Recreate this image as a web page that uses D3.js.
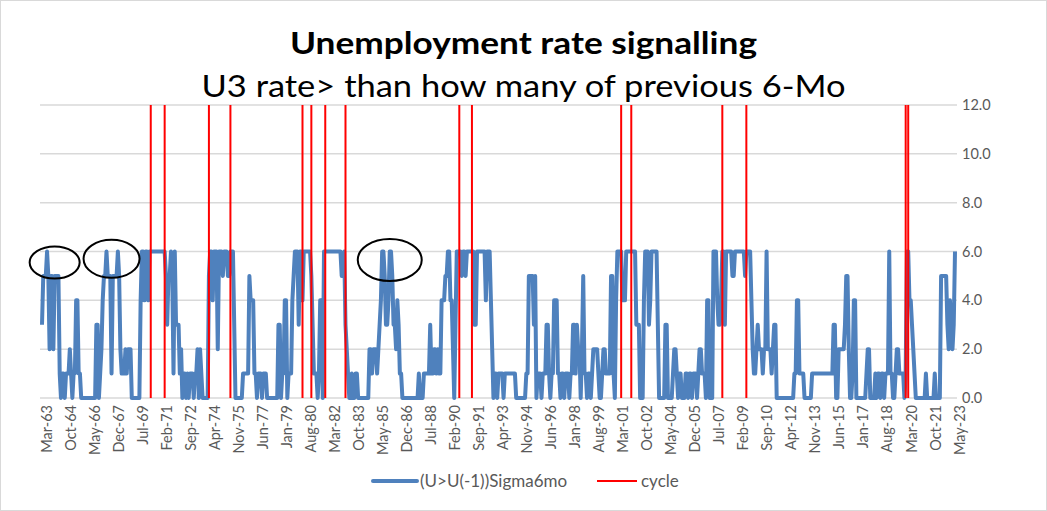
<!DOCTYPE html>
<html>
<head>
<meta charset="utf-8">
<script src="https://cdn.jsdelivr.net/npm/d3@7"></script>
<style>
  body { margin: 0; background: #fff; }
  svg text { font-family: Lato, "Open Sans", sans-serif; }
</style>
</head>
<body>
<div id="chart"></div>
<script>
// (U>U(-1))Sigma6mo, monthly, in blocks of ten years starting each March
const sigmaMar63 = [
  3,5,5,5,6,5,2,5,5,2,5,5, 5,5,1,0,1,1,0,1,1,1,2,1, 0,1,1,4,4,1,1,0,0,0,0,0,
  0,0,0,0,0,0,0,3,3,0,1,2, 4,5,5,6,5,5,5,1,5,5,5,5, 6,5,2,1,1,1,2,1,2,2,2,0,
  0,0,0,0,0,0,4,6,6,4,6,6, 4,6,6,6,6,6,6,6,6,6,6,6, 6,6,5,3,5,5,6,5,1,6,3,3,
  3,1,2,0,1,1,0,1,0,1,1,1
];
const sigmaMar73 = [
  0,1,1,2,0,2,1,0,0,0,0,0, 5,6,6,4,6,6,6,2,6,6,6,5, 6,6,6,5,5,6,6,6,3,0,0,0,
  0,0,0,1,1,1,1,1,5,4,4,4, 1,1,0,1,1,1,0,1,1,1,0,0, 0,0,0,0,0,0,0,3,3,0,1,1,
  4,4,0,1,1,1,4,5,6,6,6,3, 6,6,4,6,6,6,6,6,6,5,3,1, 1,1,0,1,4,4,0,6,6,6,6,6,
  6,6,6,6,6,6,6,6,6,5,5,6
];
const sigmaMar83 = [
  3,2,1,0,0,1,0,0,1,1,0,0, 0,0,0,0,0,0,0,2,2,1,2,2, 2,1,2,3,4,6,6,5,3,3,4,6,
  6,5,3,3,2,4,3,1,1,0,0,0, 0,0,0,0,0,0,0,0,0,0,1,0, 0,0,1,1,1,1,1,3,1,1,2,2,
  1,2,1,1,4,4,4,5,5,6,6,4, 4,2,0,3,6,6,6,6,5,6,6,5, 6,6,6,6,6,6,3,3,6,6,6,6,
  6,6,6,4,6,6,6,4,2,0,1,1
];
const sigmaMar93 = [
  0,1,1,1,1,0,1,1,1,1,1,1, 1,1,1,0,0,0,0,0,0,0,0,1, 1,5,5,5,5,3,5,0,1,1,1,0,
  1,1,1,3,3,1,0,1,1,4,4,4, 1,1,0,1,1,0,1,1,1,0,1,1, 3,3,1,3,2,2,0,2,5,1,1,0,
  1,1,0,1,2,2,2,2,1,0,0,1, 2,2,1,1,1,1,5,5,1,0,4,6, 6,6,6,4,4,4,6,6,6,6,6,6,
  6,6,3,3,3,0,0,0,4,6,6,6
];
const sigmaMar03 = [
  3,4,6,6,6,6,6,3,0,0,0,0, 0,3,3,0,0,0,0,1,2,2,1,0, 1,1,0,0,0,1,1,0,1,1,0,1,
  1,1,0,1,2,2,1,1,1,0,4,4, 0,1,0,6,6,6,4,3,3,4,6,6, 3,6,6,6,6,6,5,5,6,6,6,6,
  6,6,6,6,5,6,6,6,6,4,2,1, 1,2,3,2,2,2,1,2,2,6,2,2, 2,1,2,3,3,0,0,0,0,0,0,0,
  0,0,0,0,0,0,0,1,1,4,4,1
];
const sigmaMar13 = [
  1,1,1,0,0,0,0,0,0,1,1,1, 1,1,1,1,1,1,1,1,1,1,1,1, 1,1,3,3,0,0,2,2,2,2,2,3,
  5,5,2,0,0,1,4,4,0,0,0,0, 0,0,0,0,1,2,2,0,0,0,0,1, 0,1,1,0,1,1,0,1,1,1,6,1,
  1,0,0,1,2,2,1,1,1,1,0,1, 6,6,4,4,3,2,1,0,0,0,0,0, 0,0,0,1,0,0,0,0,0,0,1,0,
  0,0,0,5,5,5,5,5,3,2,4,3, 2,3,6
];

// months where the red "cycle" lines stand
const cycleMonths = ["May-70", "Apr-71", "Mar-74", "Aug-75", "May-80", "Dec-80", "Nov-81", "Mar-83",
  "Sep-90", "Jul-91", "May-01", "Jan-02", "Jan-08", "Aug-09", "Feb-20", "Apr-20"];

const tickLabels = ["Mar-63", "Oct-64", "May-66", "Dec-67", "Jul-69", "Feb-71", "Sep-72", "Apr-74", "Nov-75",
  "Jun-77", "Jan-79", "Aug-80", "Mar-82", "Oct-83", "May-85", "Dec-86", "Jul-88", "Feb-90", "Sep-91",
  "Apr-93", "Nov-94", "Jun-96", "Jan-98", "Aug-99", "Mar-01", "Oct-02", "May-04", "Dec-05", "Jul-07",
  "Feb-09", "Sep-10", "Apr-12", "Nov-13", "Jun-15", "Jan-17", "Aug-18", "Mar-20", "Oct-21", "May-23"];
const yTicks = [0, 2, 4, 6, 8, 10, 12];

// the hand drawn circles (month and level they are centred on)
const circleMonths = ["Jan-64", "Oct-67", "Feb-86"];
const circleLevels = [5.55, 5.7, 5.65];

const sigma = [].concat(sigmaMar63, sigmaMar73, sigmaMar83, sigmaMar93, sigmaMar03, sigmaMar13);
const fmt = d3.timeFormat("%b-%y");
const months = sigma.map((v, i) => fmt(new Date(1963, 2 + i, 1)));
const data = sigma.map((v, i) => ({ month: months[i], value: v }));

const width = 1047, height = 511;
const plotLeft = 40, plotRight = 957;

const svg = d3.select("#chart").append("svg")
    .attr("width", width)
    .attr("height", height);

svg.append("rect")
    .attr("x", 0.5).attr("y", 0.5)
    .attr("width", width - 1).attr("height", height - 1)
    .attr("fill", "#fff")
    .attr("stroke", "#d9d9d9");

const x = d3.scalePoint().domain(months).range([42, 955]);
const y = d3.scaleLinear().domain([0, 12]).range([398, 105]);

// title
svg.append("text")
    .attr("x", width / 2).attr("y", 54)
    .attr("text-anchor", "middle")
    .attr("textLength", 467).attr("lengthAdjust", "spacingAndGlyphs")
    .style("font-size", "31px").style("font-weight", "bold")
    .text("Unemployment rate signalling");
svg.append("text")
    .attr("x", width / 2).attr("y", 97)
    .attr("text-anchor", "middle")
    .attr("textLength", 644).attr("lengthAdjust", "spacingAndGlyphs")
    .style("font-size", "30px")
    .text("U3 rate> than how many of previous 6-Mo");

// gridlines
svg.append("g").selectAll("line")
    .data(yTicks)
    .join("line")
    .attr("x1", plotLeft).attr("x2", plotRight)
    .attr("y1", d => y(d)).attr("y2", d => y(d))
    .attr("stroke", "#d9d9d9")
    .attr("stroke-width", 1.5);

// y axis on the right
const yAxis = d3.axisRight(y).tickValues(yTicks).tickFormat(d3.format(".1f")).tickSize(0).tickPadding(5);
svg.append("g")
    .attr("transform", `translate(${plotRight},0)`)
    .call(yAxis)
    .call(g => g.select(".domain").remove())
    .selectAll("text")
    .attr("fill", "#595959")
    .style("font-size", "14.5px");

// x axis, rotated month labels (Excel sets them a little right of the points)
const xAxis = d3.axisBottom(x).tickValues(tickLabels).tickSize(0);
const xg = svg.append("g")
    .attr("transform", `translate(4,${y(0)})`)
    .call(xAxis);
xg.select(".domain").remove();
xg.selectAll("text")
    .attr("transform", "rotate(-90)")
    .attr("x", -7).attr("y", 0)
    .attr("dy", ".35em")
    .attr("text-anchor", "end")
    .attr("fill", "#595959")
    .style("font-size", "14.5px");

// blue series
const line = d3.line()
    .x(d => x(d.month))
    .y(d => y(d.value));
svg.append("path")
    .datum(data)
    .attr("fill", "none")
    .attr("stroke", "#4f81bd")
    .attr("stroke-width", 4)
    .attr("stroke-linejoin", "round")
    .attr("d", line);

// cycle lines
svg.append("g").selectAll("line")
    .data(cycleMonths)
    .join("line")
    .attr("x1", d => x(d)).attr("x2", d => x(d))
    .attr("y1", y(0)).attr("y2", y(12))
    .attr("stroke", "#ff0000")
    .attr("stroke-width", 2);

// circles drawn round the early peaks
const radii = [[25, 16], [28, 19], [32, 21]];
svg.append("g").selectAll("ellipse")
    .data(circleMonths)
    .join("ellipse")
    .attr("cx", d => x(d))
    .attr("cy", (d, i) => y(circleLevels[i]))
    .attr("rx", (d, i) => radii[i][0])
    .attr("ry", (d, i) => radii[i][1])
    .attr("fill", "none")
    .attr("stroke", "#000")
    .attr("stroke-width", 2);

// legend
const legend = svg.append("g").attr("transform", "translate(0,481)");
legend.append("line")
    .attr("x1", 373).attr("x2", 417)
    .attr("stroke", "#4f81bd").attr("stroke-width", 4).attr("stroke-linecap", "round");
legend.append("text")
    .attr("x", 420).attr("y", 6)
    .attr("fill", "#595959").style("font-size", "17px")
    .text("(U>U(-1))Sigma6mo");
legend.append("line")
    .attr("x1", 597).attr("x2", 637)
    .attr("stroke", "#ff0000").attr("stroke-width", 2);
legend.append("text")
    .attr("x", 641).attr("y", 6)
    .attr("fill", "#595959").style("font-size", "17px")
    .text("cycle");
</script>
</body>
</html>
